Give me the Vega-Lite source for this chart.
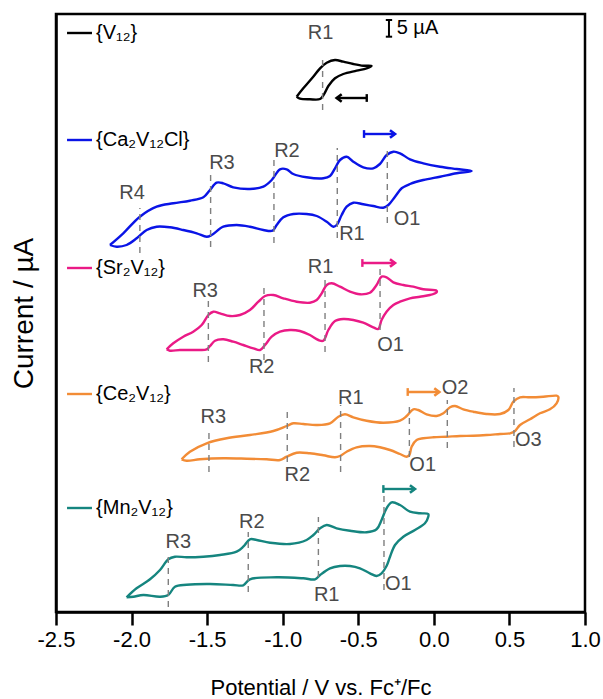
{
  "$schema": "https://vega.github.io/schema/vega-lite/v6.json",
  "width": 529,
  "height": 598,
  "autosize": {"type": "none"},
  "padding": {"left": 56, "top": 14, "right": 18, "bottom": 87},
  "config": {
    "font": "Liberation Sans",
    "view": {"stroke": "#000000", "strokeWidth": 2.5},
    "text": {"font": "Liberation Sans"}
  },
  "datasets": {
    "curves": [
      {"s":"V12","o":0,"V":-0.908,"I":515.3},{"s":"V12","o":1,"V":-0.864,"I":523.7},{"s":"V12","o":2,"V":-0.798,"I":535.3},{"s":"V12","o":3,"V":-0.753,"I":543.7},{"s":"V12","o":4,"V":-0.709,"I":549.3},{"s":"V12","o":5,"V":-0.654,"I":552},{"s":"V12","o":6,"V":-0.599,"I":550.3},{"s":"V12","o":7,"V":-0.533,"I":548},{"s":"V12","o":8,"V":-0.467,"I":546.3},{"s":"V12","o":9,"V":-0.412,"I":546},{"s":"V12","o":10,"V":-0.445,"I":543.7},{"s":"V12","o":11,"V":-0.511,"I":541.3},{"s":"V12","o":12,"V":-0.599,"I":538},{"s":"V12","o":13,"V":-0.654,"I":533.7},{"s":"V12","o":14,"V":-0.698,"I":526},{"s":"V12","o":15,"V":-0.727,"I":517.7},{"s":"V12","o":16,"V":-0.753,"I":513},{"s":"V12","o":17,"V":-0.82,"I":512.7},{"s":"V12","o":18,"V":-0.886,"I":513.3},{"s":"V12","o":19,"V":-0.908,"I":515.3},

      {"s":"Ca2V12Cl","o":0,"V":-2.143,"I":367},{"s":"Ca2V12Cl","o":1,"V":-2.055,"I":378.7},{"s":"Ca2V12Cl","o":2,"V":-1.945,"I":395.3},{"s":"Ca2V12Cl","o":3,"V":-1.834,"I":405.3},{"s":"Ca2V12Cl","o":4,"V":-1.724,"I":408.7},{"s":"Ca2V12Cl","o":5,"V":-1.614,"I":411.3},{"s":"Ca2V12Cl","o":6,"V":-1.525,"I":414.7},{"s":"Ca2V12Cl","o":7,"V":-1.481,"I":422},{"s":"Ca2V12Cl","o":8,"V":-1.437,"I":429.3},{"s":"Ca2V12Cl","o":9,"V":-1.393,"I":428.7},{"s":"Ca2V12Cl","o":10,"V":-1.327,"I":424.7},{"s":"Ca2V12Cl","o":11,"V":-1.217,"I":423},{"s":"Ca2V12Cl","o":12,"V":-1.128,"I":425.3},{"s":"Ca2V12Cl","o":13,"V":-1.073,"I":432},{"s":"Ca2V12Cl","o":14,"V":-1.018,"I":442.7},{"s":"Ca2V12Cl","o":15,"V":-0.974,"I":442.7},{"s":"Ca2V12Cl","o":16,"V":-0.93,"I":438},{"s":"Ca2V12Cl","o":17,"V":-0.842,"I":434.7},{"s":"Ca2V12Cl","o":18,"V":-0.731,"I":433.7},{"s":"Ca2V12Cl","o":19,"V":-0.687,"I":436},{"s":"Ca2V12Cl","o":20,"V":-0.654,"I":443.7},{"s":"Ca2V12Cl","o":21,"V":-0.621,"I":452},{"s":"Ca2V12Cl","o":22,"V":-0.577,"I":455.3},{"s":"Ca2V12Cl","o":23,"V":-0.533,"I":450.3},{"s":"Ca2V12Cl","o":24,"V":-0.467,"I":444.7},{"s":"Ca2V12Cl","o":25,"V":-0.401,"I":443.7},{"s":"Ca2V12Cl","o":26,"V":-0.357,"I":448},{"s":"Ca2V12Cl","o":27,"V":-0.312,"I":457},{"s":"Ca2V12Cl","o":28,"V":-0.268,"I":460.3},{"s":"Ca2V12Cl","o":29,"V":-0.224,"I":458.7},{"s":"Ca2V12Cl","o":30,"V":-0.158,"I":452.7},{"s":"Ca2V12Cl","o":31,"V":-0.07,"I":448.7},{"s":"Ca2V12Cl","o":32,"V":0.041,"I":445.3},{"s":"Ca2V12Cl","o":33,"V":0.151,"I":443},{"s":"Ca2V12Cl","o":34,"V":0.25,"I":441},{"s":"Ca2V12Cl","o":35,"V":0.151,"I":438.7},{"s":"Ca2V12Cl","o":36,"V":0.041,"I":435.3},{"s":"Ca2V12Cl","o":37,"V":-0.07,"I":432},{"s":"Ca2V12Cl","o":38,"V":-0.158,"I":428},{"s":"Ca2V12Cl","o":39,"V":-0.213,"I":423.7},{"s":"Ca2V12Cl","o":40,"V":-0.257,"I":415.3},{"s":"Ca2V12Cl","o":41,"V":-0.301,"I":407},{"s":"Ca2V12Cl","o":42,"V":-0.335,"I":404.3},{"s":"Ca2V12Cl","o":43,"V":-0.401,"I":406},{"s":"Ca2V12Cl","o":44,"V":-0.467,"I":407.7},{"s":"Ca2V12Cl","o":45,"V":-0.533,"I":409.3},{"s":"Ca2V12Cl","o":46,"V":-0.577,"I":405.3},{"s":"Ca2V12Cl","o":47,"V":-0.61,"I":397},{"s":"Ca2V12Cl","o":48,"V":-0.643,"I":387},{"s":"Ca2V12Cl","o":49,"V":-0.665,"I":385.3},{"s":"Ca2V12Cl","o":50,"V":-0.709,"I":390.3},{"s":"Ca2V12Cl","o":51,"V":-0.775,"I":396},{"s":"Ca2V12Cl","o":52,"V":-0.842,"I":398},{"s":"Ca2V12Cl","o":53,"V":-0.93,"I":398},{"s":"Ca2V12Cl","o":54,"V":-0.996,"I":394.7},{"s":"Ca2V12Cl","o":55,"V":-1.04,"I":387},{"s":"Ca2V12Cl","o":56,"V":-1.067,"I":381.3},{"s":"Ca2V12Cl","o":57,"V":-1.128,"I":382},{"s":"Ca2V12Cl","o":58,"V":-1.217,"I":385.3},{"s":"Ca2V12Cl","o":59,"V":-1.305,"I":387},{"s":"Ca2V12Cl","o":60,"V":-1.393,"I":385.3},{"s":"Ca2V12Cl","o":61,"V":-1.47,"I":377},{"s":"Ca2V12Cl","o":62,"V":-1.503,"I":375.3},{"s":"Ca2V12Cl","o":63,"V":-1.569,"I":378.7},{"s":"Ca2V12Cl","o":64,"V":-1.658,"I":382},{"s":"Ca2V12Cl","o":65,"V":-1.746,"I":384.7},{"s":"Ca2V12Cl","o":66,"V":-1.834,"I":385.3},{"s":"Ca2V12Cl","o":67,"V":-1.9,"I":382},{"s":"Ca2V12Cl","o":68,"V":-1.966,"I":373.7},{"s":"Ca2V12Cl","o":69,"V":-2.033,"I":367},{"s":"Ca2V12Cl","o":70,"V":-2.099,"I":365.3},{"s":"Ca2V12Cl","o":71,"V":-2.143,"I":367},

      {"s":"Sr2V12","o":0,"V":-1.768,"I":262.7},{"s":"Sr2V12","o":1,"V":-1.724,"I":268.7},{"s":"Sr2V12","o":2,"V":-1.658,"I":275.3},{"s":"Sr2V12","o":3,"V":-1.592,"I":280.3},{"s":"Sr2V12","o":4,"V":-1.536,"I":287},{"s":"Sr2V12","o":5,"V":-1.492,"I":297},{"s":"Sr2V12","o":6,"V":-1.459,"I":300.3},{"s":"Sr2V12","o":7,"V":-1.415,"I":298.7},{"s":"Sr2V12","o":8,"V":-1.349,"I":296},{"s":"Sr2V12","o":9,"V":-1.283,"I":297},{"s":"Sr2V12","o":10,"V":-1.217,"I":302},{"s":"Sr2V12","o":11,"V":-1.161,"I":310.3},{"s":"Sr2V12","o":12,"V":-1.117,"I":316},{"s":"Sr2V12","o":13,"V":-1.062,"I":317},{"s":"Sr2V12","o":14,"V":-0.996,"I":313.7},{"s":"Sr2V12","o":15,"V":-0.908,"I":310.3},{"s":"Sr2V12","o":16,"V":-0.82,"I":309.3},{"s":"Sr2V12","o":17,"V":-0.775,"I":312},{"s":"Sr2V12","o":18,"V":-0.742,"I":318.7},{"s":"Sr2V12","o":19,"V":-0.709,"I":327},{"s":"Sr2V12","o":20,"V":-0.676,"I":328.7},{"s":"Sr2V12","o":21,"V":-0.621,"I":325.3},{"s":"Sr2V12","o":22,"V":-0.555,"I":320.3},{"s":"Sr2V12","o":23,"V":-0.489,"I":317.7},{"s":"Sr2V12","o":24,"V":-0.423,"I":319.3},{"s":"Sr2V12","o":25,"V":-0.379,"I":327},{"s":"Sr2V12","o":26,"V":-0.346,"I":335.3},{"s":"Sr2V12","o":27,"V":-0.313,"I":334.7},{"s":"Sr2V12","o":28,"V":-0.268,"I":329.7},{"s":"Sr2V12","o":29,"V":-0.202,"I":327},{"s":"Sr2V12","o":30,"V":-0.136,"I":325.3},{"s":"Sr2V12","o":31,"V":-0.07,"I":322.7},{"s":"Sr2V12","o":32,"V":0.018,"I":321.3},{"s":"Sr2V12","o":33,"V":0.018,"I":319.7},{"s":"Sr2V12","o":34,"V":-0.026,"I":317},{"s":"Sr2V12","o":35,"V":-0.092,"I":315.3},{"s":"Sr2V12","o":36,"V":-0.158,"I":313.7},{"s":"Sr2V12","o":37,"V":-0.224,"I":310.3},{"s":"Sr2V12","o":38,"V":-0.268,"I":307},{"s":"Sr2V12","o":39,"V":-0.313,"I":300.3},{"s":"Sr2V12","o":40,"V":-0.346,"I":292},{"s":"Sr2V12","o":41,"V":-0.368,"I":283},{"s":"Sr2V12","o":42,"V":-0.401,"I":284.7},{"s":"Sr2V12","o":43,"V":-0.467,"I":289.3},{"s":"Sr2V12","o":44,"V":-0.533,"I":292},{"s":"Sr2V12","o":45,"V":-0.599,"I":293},{"s":"Sr2V12","o":46,"V":-0.654,"I":291},{"s":"Sr2V12","o":47,"V":-0.698,"I":282},{"s":"Sr2V12","o":48,"V":-0.731,"I":271.3},{"s":"Sr2V12","o":49,"V":-0.764,"I":272},{"s":"Sr2V12","o":50,"V":-0.82,"I":277},{"s":"Sr2V12","o":51,"V":-0.886,"I":281},{"s":"Sr2V12","o":52,"V":-0.952,"I":282},{"s":"Sr2V12","o":53,"V":-1.018,"I":280.3},{"s":"Sr2V12","o":54,"V":-1.073,"I":275.3},{"s":"Sr2V12","o":55,"V":-1.117,"I":267},{"s":"Sr2V12","o":56,"V":-1.15,"I":262},{"s":"Sr2V12","o":57,"V":-1.194,"I":263.7},{"s":"Sr2V12","o":58,"V":-1.261,"I":267},{"s":"Sr2V12","o":59,"V":-1.327,"I":270.3},{"s":"Sr2V12","o":60,"V":-1.393,"I":272.7},{"s":"Sr2V12","o":61,"V":-1.448,"I":271.3},{"s":"Sr2V12","o":62,"V":-1.481,"I":266},{"s":"Sr2V12","o":63,"V":-1.503,"I":262.7},{"s":"Sr2V12","o":64,"V":-1.548,"I":262},{"s":"Sr2V12","o":65,"V":-1.614,"I":262},{"s":"Sr2V12","o":66,"V":-1.68,"I":262},{"s":"Sr2V12","o":67,"V":-1.746,"I":261.3},{"s":"Sr2V12","o":68,"V":-1.768,"I":262.7},

      {"s":"Ce2V12","o":0,"V":-1.669,"I":152.7},{"s":"Ce2V12","o":1,"V":-1.614,"I":160.3},{"s":"Ce2V12","o":2,"V":-1.503,"I":168.7},{"s":"Ce2V12","o":3,"V":-1.371,"I":173.7},{"s":"Ce2V12","o":4,"V":-1.217,"I":177},{"s":"Ce2V12","o":5,"V":-1.062,"I":181},{"s":"Ce2V12","o":6,"V":-0.974,"I":186},{"s":"Ce2V12","o":7,"V":-0.93,"I":188.7},{"s":"Ce2V12","o":8,"V":-0.864,"I":188},{"s":"Ce2V12","o":9,"V":-0.775,"I":187},{"s":"Ce2V12","o":10,"V":-0.687,"I":188.7},{"s":"Ce2V12","o":11,"V":-0.632,"I":195.3},{"s":"Ce2V12","o":12,"V":-0.588,"I":197.7},{"s":"Ce2V12","o":13,"V":-0.533,"I":194.7},{"s":"Ce2V12","o":14,"V":-0.445,"I":191.3},{"s":"Ce2V12","o":15,"V":-0.335,"I":189.3},{"s":"Ce2V12","o":16,"V":-0.224,"I":191.3},{"s":"Ce2V12","o":17,"V":-0.18,"I":196},{"s":"Ce2V12","o":18,"V":-0.136,"I":202.7},{"s":"Ce2V12","o":19,"V":-0.103,"I":202},{"s":"Ce2V12","o":20,"V":-0.048,"I":197.7},{"s":"Ce2V12","o":21,"V":0.018,"I":196},{"s":"Ce2V12","o":22,"V":0.063,"I":198.7},{"s":"Ce2V12","o":23,"V":0.107,"I":204.7},{"s":"Ce2V12","o":24,"V":0.14,"I":206},{"s":"Ce2V12","o":25,"V":0.195,"I":202.7},{"s":"Ce2V12","o":26,"V":0.261,"I":200.3},{"s":"Ce2V12","o":27,"V":0.349,"I":198},{"s":"Ce2V12","o":28,"V":0.438,"I":198},{"s":"Ce2V12","o":29,"V":0.493,"I":202},{"s":"Ce2V12","o":30,"V":0.526,"I":210.3},{"s":"Ce2V12","o":31,"V":0.57,"I":214.7},{"s":"Ce2V12","o":32,"V":0.636,"I":214.7},{"s":"Ce2V12","o":33,"V":0.724,"I":215.3},{"s":"Ce2V12","o":34,"V":0.812,"I":216.3},{"s":"Ce2V12","o":35,"V":0.823,"I":215.3},{"s":"Ce2V12","o":36,"V":0.812,"I":208.7},{"s":"Ce2V12","o":37,"V":0.768,"I":202.7},{"s":"Ce2V12","o":38,"V":0.702,"I":198.7},{"s":"Ce2V12","o":39,"V":0.636,"I":192.7},{"s":"Ce2V12","o":40,"V":0.57,"I":187},{"s":"Ce2V12","o":41,"V":0.537,"I":181},{"s":"Ce2V12","o":42,"V":0.504,"I":178.7},{"s":"Ce2V12","o":43,"V":0.438,"I":178},{"s":"Ce2V12","o":44,"V":0.349,"I":177},{"s":"Ce2V12","o":45,"V":0.261,"I":176.3},{"s":"Ce2V12","o":46,"V":0.173,"I":176},{"s":"Ce2V12","o":47,"V":0.085,"I":175.3},{"s":"Ce2V12","o":48,"V":-0.004,"I":174.7},{"s":"Ce2V12","o":49,"V":-0.07,"I":173.7},{"s":"Ce2V12","o":50,"V":-0.114,"I":172},{"s":"Ce2V12","o":51,"V":-0.147,"I":165.3},{"s":"Ce2V12","o":52,"V":-0.162,"I":157},{"s":"Ce2V12","o":53,"V":-0.18,"I":155.3},{"s":"Ce2V12","o":54,"V":-0.224,"I":158},{"s":"Ce2V12","o":55,"V":-0.29,"I":162},{"s":"Ce2V12","o":56,"V":-0.357,"I":164.7},{"s":"Ce2V12","o":57,"V":-0.423,"I":166},{"s":"Ce2V12","o":58,"V":-0.511,"I":164.7},{"s":"Ce2V12","o":59,"V":-0.577,"I":160.3},{"s":"Ce2V12","o":60,"V":-0.621,"I":156},{"s":"Ce2V12","o":61,"V":-0.654,"I":154.7},{"s":"Ce2V12","o":62,"V":-0.731,"I":156.7},{"s":"Ce2V12","o":63,"V":-0.82,"I":158.7},{"s":"Ce2V12","o":64,"V":-0.908,"I":159.3},{"s":"Ce2V12","o":65,"V":-0.974,"I":155.3},{"s":"Ce2V12","o":66,"V":-1.018,"I":152},{"s":"Ce2V12","o":67,"V":-1.106,"I":152.7},{"s":"Ce2V12","o":68,"V":-1.239,"I":153.3},{"s":"Ce2V12","o":69,"V":-1.393,"I":153.7},{"s":"Ce2V12","o":70,"V":-1.548,"I":152.7},{"s":"Ce2V12","o":71,"V":-1.636,"I":151.3},{"s":"Ce2V12","o":72,"V":-1.669,"I":152.7},

      {"s":"Mn2V12","o":0,"V":-2.033,"I":14.7},{"s":"Mn2V12","o":1,"V":-1.967,"I":23.7},{"s":"Mn2V12","o":2,"V":-1.878,"I":32.7},{"s":"Mn2V12","o":3,"V":-1.812,"I":42},{"s":"Mn2V12","o":4,"V":-1.757,"I":52.7},{"s":"Mn2V12","o":5,"V":-1.713,"I":55.3},{"s":"Mn2V12","o":6,"V":-1.636,"I":54.7},{"s":"Mn2V12","o":7,"V":-1.525,"I":55.3},{"s":"Mn2V12","o":8,"V":-1.415,"I":57},{"s":"Mn2V12","o":9,"V":-1.305,"I":60.3},{"s":"Mn2V12","o":10,"V":-1.261,"I":65.3},{"s":"Mn2V12","o":11,"V":-1.217,"I":72.7},{"s":"Mn2V12","o":12,"V":-1.172,"I":72},{"s":"Mn2V12","o":13,"V":-1.084,"I":69.3},{"s":"Mn2V12","o":14,"V":-0.952,"I":68},{"s":"Mn2V12","o":15,"V":-0.842,"I":72},{"s":"Mn2V12","o":16,"V":-0.797,"I":77},{"s":"Mn2V12","o":17,"V":-0.753,"I":83.7},{"s":"Mn2V12","o":18,"V":-0.709,"I":87},{"s":"Mn2V12","o":19,"V":-0.643,"I":83.7},{"s":"Mn2V12","o":20,"V":-0.555,"I":81.3},{"s":"Mn2V12","o":21,"V":-0.445,"I":79.7},{"s":"Mn2V12","o":22,"V":-0.379,"I":82.7},{"s":"Mn2V12","o":23,"V":-0.346,"I":92},{"s":"Mn2V12","o":24,"V":-0.313,"I":103.7},{"s":"Mn2V12","o":25,"V":-0.279,"I":109.7},{"s":"Mn2V12","o":26,"V":-0.224,"I":107},{"s":"Mn2V12","o":27,"V":-0.158,"I":100.3},{"s":"Mn2V12","o":28,"V":-0.092,"I":98.7},{"s":"Mn2V12","o":29,"V":-0.037,"I":98},{"s":"Mn2V12","o":30,"V":-0.037,"I":95.3},{"s":"Mn2V12","o":31,"V":-0.059,"I":88.7},{"s":"Mn2V12","o":32,"V":-0.125,"I":82},{"s":"Mn2V12","o":33,"V":-0.202,"I":75.3},{"s":"Mn2V12","o":34,"V":-0.257,"I":67},{"s":"Mn2V12","o":35,"V":-0.29,"I":55.3},{"s":"Mn2V12","o":36,"V":-0.313,"I":46},{"s":"Mn2V12","o":37,"V":-0.346,"I":38.7},{"s":"Mn2V12","o":38,"V":-0.379,"I":36},{"s":"Mn2V12","o":39,"V":-0.423,"I":38.7},{"s":"Mn2V12","o":40,"V":-0.489,"I":43.7},{"s":"Mn2V12","o":41,"V":-0.555,"I":46},{"s":"Mn2V12","o":42,"V":-0.621,"I":46},{"s":"Mn2V12","o":43,"V":-0.687,"I":43.7},{"s":"Mn2V12","o":44,"V":-0.753,"I":37},{"s":"Mn2V12","o":45,"V":-0.786,"I":32.7},{"s":"Mn2V12","o":46,"V":-0.864,"I":33.7},{"s":"Mn2V12","o":47,"V":-1.04,"I":34.7},{"s":"Mn2V12","o":48,"V":-1.217,"I":32.7},{"s":"Mn2V12","o":49,"V":-1.261,"I":26.7},{"s":"Mn2V12","o":50,"V":-1.327,"I":27},{"s":"Mn2V12","o":51,"V":-1.481,"I":28},{"s":"Mn2V12","o":52,"V":-1.636,"I":27.3},{"s":"Mn2V12","o":53,"V":-1.713,"I":25.3},{"s":"Mn2V12","o":54,"V":-1.757,"I":17},{"s":"Mn2V12","o":55,"V":-1.812,"I":15.3},{"s":"Mn2V12","o":56,"V":-1.922,"I":17},{"s":"Mn2V12","o":57,"V":-1.988,"I":15.3},{"s":"Mn2V12","o":58,"V":-2.033,"I":14.7}
    ],
    "dashes": [
      {"V":-0.736,"I1":502,"I2":554},
      {"V":-1.945,"I1":359,"I2":404},{"V":-1.477,"I1":365,"I2":442},{"V":-1.058,"I1":369,"I2":454},{"V":-0.639,"I1":374,"I2":464},{"V":-0.308,"I1":389,"I2":464},
      {"V":-1.492,"I1":250,"I2":312},{"V":-1.124,"I1":252,"I2":326},{"V":-0.72,"I1":260,"I2":334},{"V":-0.356,"I1":282,"I2":347},
      {"V":-1.488,"I1":140,"I2":182},{"V":-0.97,"I1":150,"I2":200},{"V":-0.617,"I1":140,"I2":207},{"V":-0.162,"I1":155,"I2":210},{"V":0.089,"I1":164,"I2":212},{"V":0.53,"I1":165,"I2":224},
      {"V":-1.757,"I1":5,"I2":55},{"V":-1.228,"I1":20,"I2":80},{"V":-0.764,"I1":35,"I2":95},{"V":-0.33,"I1":22,"I2":117}
    ],
    "peaks": [
      {"t":"R1","V":-0.749,"I":578.7},
      {"t":"R4","V":-1.997,"I":419},{"t":"R3","V":-1.402,"I":449},{"t":"R2","V":-0.972,"I":461},{"t":"R1","V":-0.542,"I":378},{"t":"O1","V":-0.177,"I":393},
      {"t":"R3","V":-1.513,"I":321},{"t":"R2","V":-1.139,"I":245},{"t":"R1","V":-0.749,"I":345},{"t":"O1","V":-0.286,"I":267},
      {"t":"R3","V":-1.459,"I":195},{"t":"R2","V":-0.903,"I":137},{"t":"R1","V":-0.55,"I":214},{"t":"O1","V":-0.074,"I":147},{"t":"O2","V":0.14,"I":224},{"t":"O3","V":0.625,"I":172},
      {"t":"R3","V":-1.691,"I":70},{"t":"R2","V":-1.205,"I":90},{"t":"R1","V":-0.709,"I":17},{"t":"O1","V":-0.235,"I":28}
    ],
    "legend": [
      {"s":"V12","t":"{V₁₂}","I":579},
      {"s":"Ca2V12Cl","t":"{Ca₂V₁₂Cl}","I":472},
      {"s":"Sr2V12","t":"{Sr₂V₁₂}","I":344},
      {"s":"Ce2V12","t":"{Ce₂V₁₂}","I":218},
      {"s":"Mn2V12","t":"{Mn₂V₁₂}","I":104}
    ],
    "arrows": [
      {"s":"V12","V1":-0.444,"V2":-0.643,"I":514},
      {"s":"Ca2V12Cl","V1":-0.462,"V2":-0.257,"I":478},
      {"s":"Sr2V12","V1":-0.473,"V2":-0.257,"I":349},
      {"s":"Ce2V12","V1":-0.173,"V2":0.036,"I":220},
      {"s":"Mn2V12","V1":-0.334,"V2":-0.125,"I":123}
    ],
    "scalebar": [
      {"V":-0.297,"I1":575.3,"I2":592,"t":"5 µA","Vt":-0.246,"It":583.7}
    ]
  },
  "layer": [
    {
      "data": {"name": "curves"},
      "mark": {"type": "line", "strokeWidth": 2.4, "interpolate": "catmull-rom"},
      "encoding": {
        "x": {
          "field": "V", "type": "quantitative", "title": "Potential / V vs. Fc⁺/Fc",
          "scale": {"domain": [-2.5, 1.0], "nice": false, "zero": false},
          "axis": {
            "values": [-2.5,-2.25,-2.0,-1.75,-1.5,-1.25,-1.0,-0.75,-0.5,-0.25,0.0,0.25,0.5,0.75,1.0],
            "labelExpr": "abs(datum.value*2 - round(datum.value*2)) > 0.01 ? '' : (datum.value < 0 ? '-' + format(-datum.value, '.1f') : format(datum.value, '.1f'))",
            "tickSize": {"condition": {"test": "abs(datum.value*2 - round(datum.value*2)) > 0.01", "value": 6}, "value": 13},
            "tickColor": "#000000", "tickWidth": 2.5,
            "domainColor": "#000000", "domainWidth": 2.5,
            "grid": false,
            "labelFont": "Liberation Sans", "labelFontSize": 22, "labelColor": "#000000",
            "labelPadding": 4, "labelOverlap": false, "labelFlush": false,
            "titleFont": "Liberation Sans", "titleFontSize": 22, "titleFontWeight": "normal", "titleColor": "#000000",
            "titleBaseline": "alphabetic", "titleY": 82
          }
        },
        "y": {
          "field": "I", "type": "quantitative", "title": "Current / µA",
          "scale": {"domain": [0, 598], "nice": false, "zero": false},
          "axis": {
            "ticks": false, "labels": false, "grid": false,
            "domainColor": "#000000", "domainWidth": 2.5,
            "titleFont": "Liberation Sans", "titleFontSize": 28, "titleFontWeight": "normal", "titleColor": "#000000",
            "titleBaseline": "alphabetic", "titleX": -24, "titleY": 299, "titleAngle": -90, "titleAlign": "center"
          }
        },
        "color": {
          "field": "s", "type": "nominal", "legend": null,
          "scale": {"domain": ["V12","Ca2V12Cl","Sr2V12","Ce2V12","Mn2V12"], "range": ["#000000","#0a14e6","#ea1a86","#f28c36","#15857f"]}
        },
        "order": {"field": "o", "type": "quantitative"}
      }
    },
    {
      "data": {"name": "dashes"},
      "mark": {"type": "rule", "color": "#7f7f7f", "strokeWidth": 1.4, "strokeDash": [6, 5]},
      "encoding": {
        "x": {"field": "V", "type": "quantitative", "title": "Potential / V vs. Fc⁺/Fc"},
        "y": {"field": "I1", "type": "quantitative", "title": "Current / µA"},
        "y2": {"field": "I2"}
      }
    },
    {
      "data": {"name": "peaks"},
      "mark": {"type": "text", "fontSize": 20, "color": "#4a4a4a", "align": "center", "baseline": "middle", "font": "Liberation Sans"},
      "encoding": {
        "x": {"field": "V", "type": "quantitative", "title": "Potential / V vs. Fc⁺/Fc"},
        "y": {"field": "I", "type": "quantitative", "title": "Current / µA"},
        "text": {"field": "t"}
      }
    },
    {
      "data": {"name": "legend"},
      "mark": {"type": "rule", "strokeWidth": 2.4},
      "encoding": {
        "x": {"datum": -2.427, "type": "quantitative", "title": "Potential / V vs. Fc⁺/Fc"},
        "x2": {"datum": -2.262},
        "y": {"field": "I", "type": "quantitative", "title": "Current / µA"},
        "color": {"field": "s", "type": "nominal", "legend": null}
      }
    },
    {
      "data": {"name": "legend"},
      "mark": {"type": "text", "fontSize": 20, "color": "#000000", "align": "left", "baseline": "middle", "font": "Liberation Sans"},
      "encoding": {
        "x": {"datum": -2.235, "type": "quantitative", "title": "Potential / V vs. Fc⁺/Fc"},
        "y": {"field": "I", "type": "quantitative", "title": "Current / µA"},
        "text": {"field": "t"}
      }
    },
    {
      "data": {"name": "arrows"},
      "mark": {"type": "rule", "strokeWidth": 2.4},
      "encoding": {
        "x": {"field": "V1", "type": "quantitative", "title": "Potential / V vs. Fc⁺/Fc"},
        "x2": {"field": "V2"},
        "y": {"field": "I", "type": "quantitative", "title": "Current / µA"},
        "color": {"field": "s", "type": "nominal", "legend": null}
      }
    },
    {
      "data": {"name": "arrows"},
      "mark": {"type": "point", "shape": "M0,-1L0,1", "filled": false, "size": 60, "strokeWidth": 2.4, "opacity": 1},
      "encoding": {
        "x": {"field": "V1", "type": "quantitative", "title": "Potential / V vs. Fc⁺/Fc"},
        "y": {"field": "I", "type": "quantitative", "title": "Current / µA"},
        "color": {"field": "s", "type": "nominal", "legend": null}
      }
    },
    {
      "data": {"name": "arrows"},
      "mark": {"type": "point", "shape": "M-1.2,-0.9L0,0L-1.2,0.9", "filled": false, "size": 70, "strokeWidth": 2.6, "opacity": 1},
      "encoding": {
        "x": {"field": "V2", "type": "quantitative", "title": "Potential / V vs. Fc⁺/Fc"},
        "y": {"field": "I", "type": "quantitative", "title": "Current / µA"},
        "color": {"field": "s", "type": "nominal", "legend": null},
        "angle": {"condition": {"test": "datum.s === 'V12'", "value": 180}, "value": 0}
      }
    },
    {
      "data": {"name": "scalebar"},
      "mark": {"type": "rule", "strokeWidth": 2, "color": "#000000"},
      "encoding": {
        "x": {"field": "V", "type": "quantitative", "title": "Potential / V vs. Fc⁺/Fc"},
        "y": {"field": "I1", "type": "quantitative", "title": "Current / µA"},
        "y2": {"field": "I2"}
      }
    },
    {
      "data": {"name": "scalebar"},
      "mark": {"type": "point", "shape": "M-1,0L1,0", "filled": false, "size": 40, "strokeWidth": 2, "color": "#000000", "opacity": 1},
      "encoding": {
        "x": {"field": "V", "type": "quantitative", "title": "Potential / V vs. Fc⁺/Fc"},
        "y": {"field": "I1", "type": "quantitative", "title": "Current / µA"}
      }
    },
    {
      "data": {"name": "scalebar"},
      "mark": {"type": "point", "shape": "M-1,0L1,0", "filled": false, "size": 40, "strokeWidth": 2, "color": "#000000", "opacity": 1},
      "encoding": {
        "x": {"field": "V", "type": "quantitative", "title": "Potential / V vs. Fc⁺/Fc"},
        "y": {"field": "I2", "type": "quantitative", "title": "Current / µA"}
      }
    },
    {
      "data": {"name": "scalebar"},
      "mark": {"type": "text", "fontSize": 20, "color": "#000000", "align": "left", "baseline": "middle", "font": "Liberation Sans"},
      "encoding": {
        "x": {"field": "Vt", "type": "quantitative", "title": "Potential / V vs. Fc⁺/Fc"},
        "y": {"field": "It", "type": "quantitative", "title": "Current / µA"},
        "text": {"field": "t"}
      }
    }
  ]
}
